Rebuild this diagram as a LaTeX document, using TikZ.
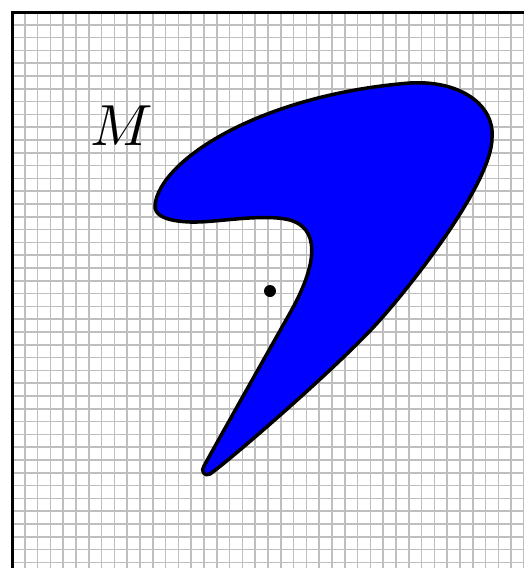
\documentclass[tikz,border=0pt]{standalone}
\usepackage{tikz}
\usetikzlibrary{calc}

\begin{document}
\begin{tikzpicture}[
x=1pt, y=-1pt,
gridline/.style={draw=black!25, line width=1.6pt},
frameline/.style={draw=black, line width=3pt},
blob/.style={fill=blue, draw=black, line width=3.5pt, line join=round}
]

\useasboundingbox (0,0) rectangle (524,568);
\clip (0,0) rectangle (524,568);

% Grid paper
\foreach \i in {1,...,40}
  \draw[gridline] ({12+12.8*\i},12) -- ({12+12.8*\i},568);
\foreach \j in {1,...,44}
  \draw[gridline] (12,{12+12.8*\j}) -- (524,{12+12.8*\j});

% Frame of the region
\draw[frameline] (12,12) rectangle (540,590);

% The set M
\draw[blob] (155,205)
  .. controls (160,160) and (260,95) .. (410,83)
  .. controls (460,80) and (495,105) .. (492,138)
  .. controls (492,180) and (420,275) .. (380,320)
  .. controls (340,365) and (230,460) .. (210,474)
  .. controls (205,477) and (200,471) .. (204,466)
  .. controls (225,428) and (268,352) .. (290,313)
  .. controls (320,260) and (318,228) .. (290,220)
  .. controls (262,213) and (215,223) .. (190,222)
  .. controls (165,221) and (154,215) .. cycle;

% Label and point
\node[scale=5.8, inner sep=0pt] (label_m) at (122,126) {$M$};
\fill (270,291) circle (6);

\end{tikzpicture}
\end{document}
